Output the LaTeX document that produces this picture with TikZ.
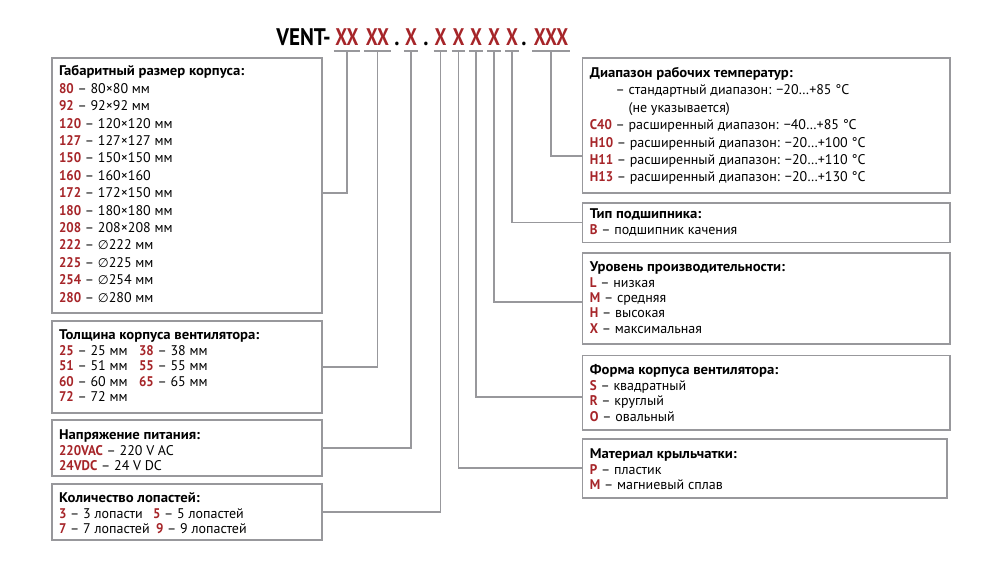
\documentclass[tikz,border=0pt]{standalone}
\usepackage{fontspec}
\setmainfont{PT Sans}[BoldFeatures={FakeStretch=0.93}]
\newfontfamily\ventfont[FakeStretch=0.88]{PT Sans}
\newfontfamily\codefont[FakeStretch=0.78]{PT Sans}
\newfontfamily\titlefont[FakeStretch=1.05]{PT Sans}
\newfontfamily\diafont{DejaVu Sans}
\usetikzlibrary{positioning}

\definecolor{codered}{RGB}{166,37,41}
\definecolor{linegray}{RGB}{152,152,156}

\newcommand{\code}[1]{\textbf{\textcolor{codered}{#1}}}
\newcommand{\boxtitle}[1]{{\titlefont\bfseries #1}}
\newcommand{\dia}{{\diafont\fontsize{12.5}{12.5}\selectfont ∅}}
\newcommand{\boxtext}[4]{\parbox[c][#2][t]{#1}{\rule{0pt}{#3}#4}}

\begin{document}
\begin{tikzpicture}[
  x=1pt, y=-1pt,
  every node/.style={inner sep=0pt},
  head/.style={font=\ventfont\fontsize{24}{24}\selectfont\bfseries, anchor=base},
  codehead/.style={head, font=\codefont\fontsize{24}{24}\selectfont\bfseries, text=codered},
  box/.style={draw=linegray, line width=1.8pt, anchor=north west, inner xsep=7.5pt, inner ysep=0pt, font=\fontsize{14}{15.4}\selectfont},
  widebox/.style={box, font=\fontsize{14}{17.4}\selectfont},
  bar/.style={draw=linegray, line width=1.8pt},
  link/.style={draw=linegray, line width=1.8pt}
]

\def\bary{-5.7pt}

\useasboundingbox (0,0) rectangle (1000,565);

\node[head, anchor=base east] (vent) at (331,45) {VENT-};
\node[codehead] (g1) at (347,45) {XX};
\node[codehead] (g2) at (377.5,45) {XX};
\node[head] (d1) at (397,45) {.};
\node[codehead] (g3) at (411,45) {X};
\node[head] (d2) at (426,45) {.};
\node[codehead] (g4) at (440.5,45) {X};
\node[codehead] (g5) at (458.5,45) {X};
\node[codehead] (g6) at (476,45) {X};
\node[codehead] (g7) at (494,45) {X};
\node[codehead] (g8) at (512,45) {X};
\node[head] (d3) at (524,45) {.};
\node[codehead] (g9) at (551,45) {XXX};

\node[widebox] (size) at (50.7,56.7) {\boxtext{255.3pt}{255.3pt}{18.3pt}{%
\boxtitle{Габаритный размер корпуса:}\\
\code{80} – 80×80 мм\\
\code{92} – 92×92 мм\\
\code{120} – 120×120 мм\\
\code{127} – 127×127 мм\\
\code{150} – 150×150 мм\\
\code{160} – 160×160\\
\code{172} – 172×150 мм\\
\code{180} – 180×180 мм\\
\code{208} – 208×208 мм\\
\code{222} – \dia222 мм\\
\code{225} – \dia225 мм\\
\code{254} – \dia254 мм\\
\code{280} – \dia280 мм}};

\node[box] (thick) at (50.7,320) {\boxtext{255.3pt}{91.7pt}{19pt}{%
\boxtitle{Толщина корпуса вентилятора:}\\
\makebox[80pt][l]{\code{25} – 25 мм}\code{38} – 38 мм\\
\makebox[80pt][l]{\code{51} – 51 мм}\code{55} – 55 мм\\
\makebox[80pt][l]{\code{60} – 60 мм}\code{65} – 65 мм\\
\code{72} – 72 мм}};

\node[box] (volt) at (50.7,419.3) {\boxtext{255.3pt}{55.7pt}{19.5pt}{%
\boxtitle{Напряжение питания:}\\
\code{220VAC} – 220 V AC\\
\code{24VDC} – 24 V DC}};

\node[box] (blades) at (50.7,483.3) {\boxtext{255.3pt}{56pt}{18.7pt}{%
\boxtitle{Количество лопастей:}\\
\makebox[94pt][l]{\code{3} – 3 лопасти}\code{5} – 5 лопастей\\
\makebox[97pt][l]{\code{7} – 7 лопастей}\code{9} – 9 лопастей}};

\node[widebox] (temp) at (581.5,57.3) {\boxtext{352.8pt}{134.4pt}{19.3pt}{%
\boxtitle{Диапазон рабочих температур:}\\
\hphantom{\code{C40} }– стандартный диапазон: −20…+85 °C\\
\hphantom{\code{C40} – }(не указывается)\\
\code{C40} – расширенный диапазон: −40…+85 °C\\
\code{H10} – расширенный диапазон: −20…+100 °C\\
\code{H11} – расширенный диапазон: −20…+110 °C\\
\code{H13} – расширенный диапазон: −20…+130 °C}};

\node[box] (bearing) at (581.5,201.7) {\boxtext{352.8pt}{39.8pt}{16.3pt}{%
\boxtitle{Тип подшипника:}\\
\code{B} – подшипник качения}};

\node[box] (perf) at (581.5,252.3) {\boxtext{352.8pt}{91pt}{18.5pt}{%
\boxtitle{Уровень производительности:}\\
\code{L} – низкая\\
\code{M} – средняя\\
\code{H} – высокая\\
\code{X} – максимальная}};

\node[box] (shape) at (581.5,354.5) {\boxtext{352.8pt}{74.8pt}{19.5pt}{%
\boxtitle{Форма корпуса вентилятора:}\\
\code{S} – квадратный\\
\code{R} – круглый\\
\code{O} – овальный}};

\node[box] (rotor) at (581.5,438) {\boxtext{349.5pt}{58.7pt}{20pt}{%
\boxtitle{Материал крыльчатки:}\\
\code{P} – пластик\\
\code{M} – магниевый сплав}};

\draw[bar] ([xshift=-1.5pt,yshift=\bary]g1.base west) -- ([xshift=1.5pt,yshift=\bary]g1.base east);
\draw[bar] ([xshift=-1.5pt,yshift=\bary]g2.base west) -- ([xshift=1.5pt,yshift=\bary]g2.base east);
\draw[bar] ([xshift=-0.5pt,yshift=\bary]g3.base west) -- ([xshift=0.5pt,yshift=\bary]g3.base east);
\draw[bar] ([xshift=-0.5pt,yshift=\bary]g4.base west) -- ([xshift=0.5pt,yshift=\bary]g4.base east);
\draw[bar] ([xshift=-0.5pt,yshift=\bary]g5.base west) -- ([xshift=0.5pt,yshift=\bary]g5.base east);
\draw[bar] ([xshift=-0.5pt,yshift=\bary]g6.base west) -- ([xshift=0.5pt,yshift=\bary]g6.base east);
\draw[bar] ([xshift=-0.5pt,yshift=\bary]g7.base west) -- ([xshift=0.5pt,yshift=\bary]g7.base east);
\draw[bar] ([xshift=-0.5pt,yshift=\bary]g8.base west) -- ([xshift=0.5pt,yshift=\bary]g8.base east);
\draw[bar] ([xshift=-1.5pt,yshift=\bary]g9.base west) -- ([xshift=1.5pt,yshift=\bary]g9.base east);

\draw[link] ([yshift=\bary]g1.base) |- ([yshift=-7.4pt]size.east);
\draw[link] ([yshift=\bary]g2.base) |- (thick.east);
\draw[link] ([yshift=\bary]g3.base) |- (volt.east);
\draw[link] ([yshift=\bary]g4.base) |- (blades.east);
\draw[link] ([yshift=\bary]g5.base) |- (rotor.west);
\draw[link] ([yshift=\bary]g6.base) |- ([yshift=-3.9pt]shape.west);
\draw[link] ([yshift=\bary]g7.base) |- ([yshift=-3.2pt]perf.west);
\draw[link] ([yshift=\bary]g8.base) |- (bearing.west);
\draw[link] ([yshift=\bary]g9.base) |- ([yshift=-30.5pt]temp.west);

\end{tikzpicture}
\end{document}
